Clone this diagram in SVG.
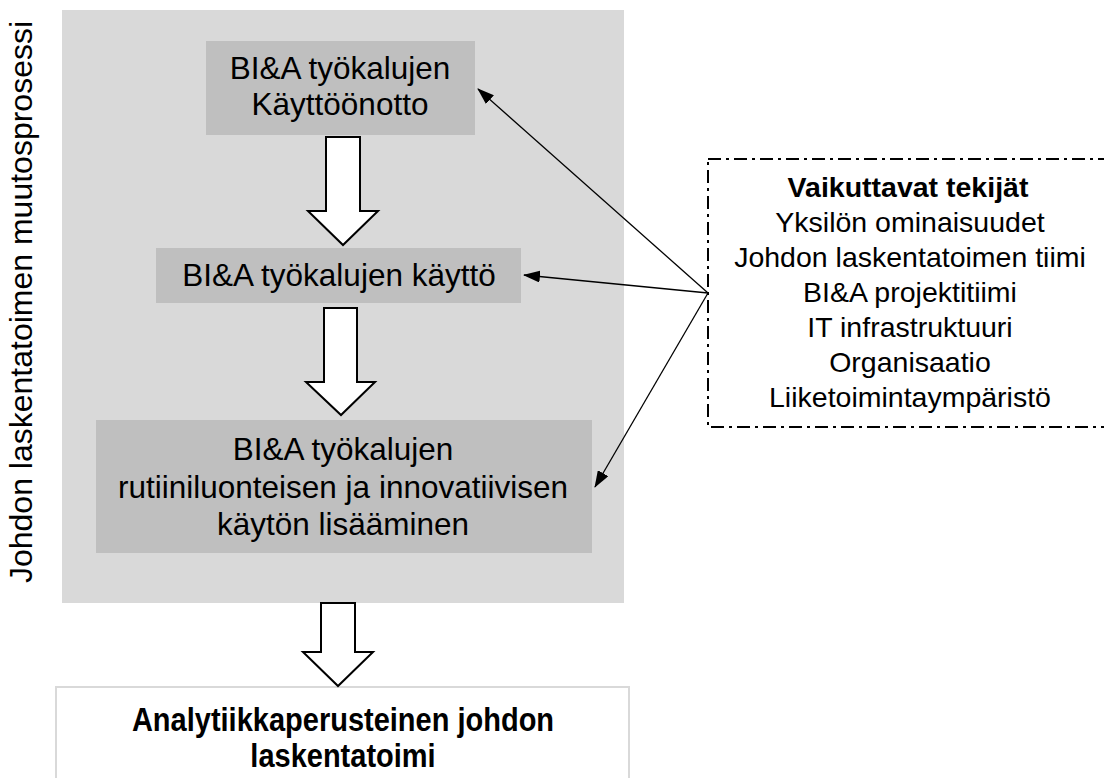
<svg xmlns="http://www.w3.org/2000/svg" width="1104" height="778" viewBox="0 0 1104 778">
<defs>
<marker id="ah" markerWidth="17" markerHeight="12" refX="16" refY="6" orient="auto" markerUnits="userSpaceOnUse">
<path d="M0,0 L17,6 L0,12 Z" fill="#000"/>
</marker>
<style>
.t{font-family:"Liberation Sans",Arial,sans-serif;fill:#000;text-anchor:middle}
.r{font-size:31.5px}
.f{font-size:28.5px}
.b{font-weight:bold}
.box{fill:#bfbfbf}
.blk{fill:#fff;stroke:#000;stroke-width:2}
.con{stroke:#000;stroke-width:1.3;fill:none;marker-end:url(#ah)}
</style>
</defs>
<rect width="1104" height="778" fill="#fff"/>
<g id="panel">
<rect x="62" y="10" width="562" height="593" fill="#d9d9d9"/>
<text class="t" style="font-size:32px" transform="translate(32,302) rotate(-90)">Johdon laskentatoimen muutosprosessi</text>
</g>
<g id="n1">
<rect class="box" x="206" y="41" width="269" height="94"/>
<text class="t r" x="340" y="79">BI&amp;A työkalujen</text>
<text class="t r" x="340" y="115">Käyttöönotto</text>
</g>
<g id="n2">
<rect class="box" x="156" y="248" width="365" height="55"/>
<text class="t r" x="339" y="286">BI&amp;A työkalujen käyttö</text>
</g>
<g id="n3">
<rect class="box" x="96" y="420" width="496" height="133"/>
<text class="t r" x="343" y="460">BI&amp;A työkalujen</text>
<text class="t r" x="343" y="498">rutiiniluonteisen ja innovatiivisen</text>
<text class="t r" x="343" y="535">käytön lisääminen</text>
</g>
<g id="n4">
<rect x="56" y="687" width="573" height="110" fill="#fff" stroke="#d9d9d9" stroke-width="2"/>
<text class="t b" style="font-size:29px" transform="translate(343,731) scale(1,1.15)">Analytiikkaperusteinen johdon</text>
<text class="t b" style="font-size:29px" transform="translate(343,767) scale(1,1.15)">laskentatoimi</text>
</g>
<g id="factors">
<rect x="708" y="159" width="420" height="268" fill="#fff" stroke="#000" stroke-width="2" stroke-dasharray="13 5 3 5"/>
<text class="t f b" x="908" y="197">Vaikuttavat tekijät</text>
<text class="t f" x="910" y="232">Yksilön ominaisuudet</text>
<text class="t f" x="910" y="267">Johdon laskentatoimen tiimi</text>
<text class="t f" x="910" y="302">BI&amp;A projektitiimi</text>
<text class="t f" x="910" y="337">IT infrastruktuuri</text>
<text class="t f" x="910" y="372">Organisaatio</text>
<text class="t f" x="910" y="407">Liiketoimintaympäristö</text>
</g>
<g id="connectors">
<path class="blk" d="M326,137 H360 V211 H378 L343,245 L308,211 H326 Z"/>
<path class="blk" d="M324,308 H357 V382 H375 L341,415 L306,382 H324 Z"/>
<path class="blk" d="M321,603 H355 V652 H373 L338,686 L303,652 H321 Z"/>
<line class="con" x1="708" y1="293" x2="478" y2="89"/>
<line class="con" x1="708" y1="293" x2="524" y2="275"/>
<line class="con" x1="708" y1="293" x2="595" y2="487"/>
</g>
</svg>
